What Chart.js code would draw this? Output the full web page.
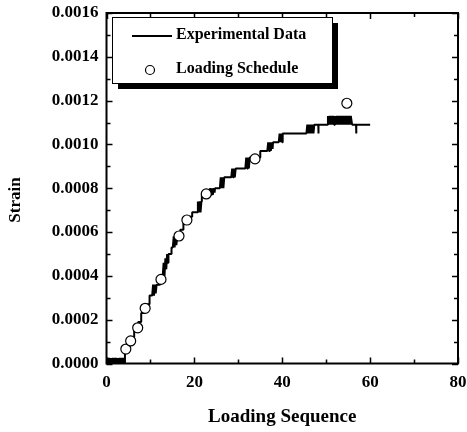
<!DOCTYPE html>
<html>
<head>
<meta charset="utf-8">
<script src="https://cdn.jsdelivr.net/npm/chart.js@4/dist/chart.umd.min.js"></script>
<style>
  html, body { margin: 0; padding: 0; background: #fff; }
  #box { width: 467px; height: 432px; }
</style>
</head>
<body>
<div id="box"><canvas id="grafico"></canvas></div>
<script>
// Curva experimental (sequência de carga, deformação)
const experimental = [
    // bloco ruidoso perto de zero
    [0, 0], [0.2, 0.000025], [0.4, 0], [0.6, 0.000025], [0.8, 0], [1.0, 0.000025], [1.2, 0],
    [1.4, 0.000025], [1.6, 0], [1.8, 0.000025], [2.0, 0], [2.2, 0.000025], [2.4, 0], [2.6, 0.000025],
    [2.8, 0], [3.0, 0.000025], [3.2, 0], [3.4, 0.000025], [3.6, 0], [3.8, 0.000025], [4.0, 0], [4.2, 0.000025],
    // subida em degraus
    [4.2, 0.00006], [4.8, 0.00006], [4.8, 0.00009], [5.6, 0.00009], [5.6, 0.00012], [6.3, 0.00012],
    [6.3, 0.00015], [7.2, 0.00015], [7.2, 0.00019], [7.9, 0.00019], [7.9, 0.00023], [8.7, 0.00023],
    [8.7, 0.00027], [9.8, 0.00027], [9.8, 0.00031],
    [10.4, 0.00031], [10.6, 0.00036], [10.8, 0.00031], [11.0, 0.00036], [11.2, 0.00032], [11.4, 0.00036],
    [12.2, 0.00036], [12.2, 0.0004],
    [12.8, 0.0004], [13.0, 0.00046], [13.2, 0.0004], [13.4, 0.00048], [13.6, 0.00043], [13.8, 0.0005],
    [14.0, 0.00046], [14.1, 0.0005],
    [14.8, 0.0005], [14.8, 0.00053],
    [15.1, 0.00053], [15.3, 0.00058], [15.5, 0.00053], [15.7, 0.00058], [15.9, 0.00054], [16.1, 0.00058],
    [16.8, 0.00058], [16.8, 0.00061], [17.5, 0.00061], [17.5, 0.00064], [18.6, 0.00064], [18.6, 0.00067],
    [19.5, 0.00067], [19.5, 0.00069],
    [20.6, 0.00069], [20.8, 0.00074], [21.0, 0.00069], [21.2, 0.00074], [21.4, 0.00069], [21.6, 0.00074],
    [21.7, 0.00074], [21.7, 0.00077],
    [23.4, 0.00077], [23.6, 0.0008], [23.8, 0.00077], [24.0, 0.0008], [24.2, 0.00077], [24.4, 0.0008],
    [24.6, 0.00078], [24.7, 0.0008],
    [25.8, 0.0008], [26.0, 0.00085], [26.2, 0.0008], [26.4, 0.00085], [26.6, 0.0008], [26.8, 0.00085],
    [28.4, 0.00085], [28.6, 0.00089], [28.8, 0.00085], [29.0, 0.00089], [29.2, 0.00085], [29.4, 0.00089],
    [31.6, 0.00089], [31.8, 0.00094], [32.0, 0.00089], [32.2, 0.00094], [32.4, 0.00089], [32.6, 0.00094],
    [35.0, 0.00094], [35.0, 0.00097],
    [36.6, 0.00097], [36.8, 0.00101], [37.0, 0.00097], [37.2, 0.00101], [37.4, 0.00097], [37.6, 0.00101],
    [37.8, 0.00098], [37.9, 0.00101],
    [39.2, 0.00101], [39.4, 0.00105], [39.6, 0.00101], [39.8, 0.00105], [40.0, 0.00101], [40.1, 0.00105],
    // patamar superior
    [45.5, 0.00105], [45.7, 0.00109], [45.9, 0.00105], [46.1, 0.00109], [46.3, 0.00105], [46.5, 0.00109],
    [46.7, 0.00105], [46.9, 0.00109], [47.1, 0.00105], [47.3, 0.00109],
    [48.2, 0.00109], [48.2, 0.00105], [48.3, 0.00109],
    [50.2, 0.00109], [50.4, 0.00113], [50.6, 0.00109], [50.8, 0.00113], [51.0, 0.00109], [51.2, 0.00113],
    [51.4, 0.00109], [51.6, 0.00113], [51.8, 0.00109], [52.0, 0.00113], [52.2, 0.00109], [52.4, 0.00113],
    [52.6, 0.00109], [52.8, 0.00113], [53.0, 0.00109], [53.2, 0.00113], [53.4, 0.00109], [53.6, 0.00113],
    [53.8, 0.00109], [54.0, 0.00113], [54.2, 0.00109], [54.4, 0.00113], [54.6, 0.00109], [54.8, 0.00113],
    [55.0, 0.00109], [55.2, 0.00113], [55.4, 0.00109], [55.6, 0.00113], [55.9, 0.00109],
    [56.8, 0.00109], [56.8, 0.00105], [56.9, 0.00109], [60, 0.00109]
];

// Cronograma de carregamento (círculos)
const scheduleX = [4.4, 5.5, 7.1, 8.8, 12.4, 16.5, 18.3, 22.7, 33.8, 54.7];
const scheduleY = [0.000066, 0.000103, 0.000163, 0.000252, 0.000384, 0.000582, 0.000655, 0.000774, 0.000934, 0.001188];

// Eixos
const xTicks = [0, 20, 40, 60, 80];
const yTicks = [0, 0.0002, 0.0004, 0.0006, 0.0008, 0.0010, 0.0012, 0.0014, 0.0016];
const xMinor = [10, 30, 50, 70];
const yMinor = [0.0001, 0.0003, 0.0005, 0.0007, 0.0009, 0.0011, 0.0013, 0.0015];

const fonte = "'Liberation Serif', 'Times New Roman', serif";

// Moldura, marcas internas, título do eixo Y e legenda com sombra
const enfeites = {
    id: 'enfeites',
    afterDraw(chart) {
        const ctx = chart.ctx;
        const a = chart.chartArea;
        const sx = chart.scales.x, sy = chart.scales.y;
        ctx.save();
        ctx.strokeStyle = '#000';
        ctx.lineWidth = 1.5;
        ctx.beginPath();
        const marca = (vals, len) => {
            vals.forEach(v => {
                const px = Math.round(sx.getPixelForValue(v)) + 0.5;
                ctx.moveTo(px, a.bottom); ctx.lineTo(px, a.bottom - len);
                ctx.moveTo(px, a.top); ctx.lineTo(px, a.top + len);
            });
        };
        const marcaY = (vals, len) => {
            vals.forEach(v => {
                const py = Math.round(sy.getPixelForValue(v)) + 0.5;
                ctx.moveTo(a.left, py); ctx.lineTo(a.left + len, py);
                ctx.moveTo(a.right, py); ctx.lineTo(a.right - len, py);
            });
        };
        marca(xTicks, 6); marca(xMinor, 4);
        marcaY(yTicks, 6); marcaY(yMinor, 4);
        ctx.stroke();

        ctx.lineWidth = 2;
        ctx.strokeRect(a.left, a.top, a.right - a.left, a.bottom - a.top);

        // título do eixo Y
        ctx.save();
        ctx.translate(16, 200);
        ctx.rotate(-Math.PI / 2);
        ctx.font = 'bold 17px ' + fonte;
        ctx.fillStyle = '#000';
        ctx.textAlign = 'center';
        ctx.textBaseline = 'middle';
        ctx.fillText('Strain', 0, 0);
        ctx.restore();

        // legenda
        const lx = 112, ly = 17, lw = 220, lh = 66;
        ctx.fillStyle = '#000';
        ctx.fillRect(lx + 6, ly + 6, lw, lh);
        ctx.fillStyle = '#fff';
        ctx.fillRect(lx, ly, lw, lh);
        ctx.lineWidth = 1;
        ctx.strokeRect(lx + 0.5, ly + 0.5, lw, lh);

        ctx.lineWidth = 2;
        ctx.beginPath();
        ctx.moveTo(132, 36); ctx.lineTo(172, 36);
        ctx.stroke();

        ctx.lineWidth = 1.2;
        ctx.beginPath();
        ctx.arc(150, 70, 4.5, 0, Math.PI * 2);
        ctx.fillStyle = '#fff';
        ctx.fill();
        ctx.stroke();

        ctx.fillStyle = '#000';
        ctx.font = 'bold 16px ' + fonte;
        ctx.textAlign = 'left';
        ctx.textBaseline = 'middle';
        ctx.fillText('Experimental Data', 176, 35);
        ctx.fillText('Loading Schedule', 176, 69);
        ctx.restore();
    }
};

const ctx = document.getElementById('grafico').getContext('2d');

new Chart(ctx, {
    type: 'line',
    data: {
        datasets: [
            {
                label: 'Loading Schedule',
                data: scheduleX.map((x, i) => ({ x: x, y: scheduleY[i] })),
                showLine: false,
                pointRadius: 5,
                pointBorderWidth: 1.2,
                pointBackgroundColor: '#fff',
                pointBorderColor: '#000'
            },
            {
                label: 'Experimental Data',
                data: experimental.map(p => ({ x: p[0], y: p[1] })),
                borderColor: '#000',
                borderWidth: 2,
                borderJoinStyle: 'bevel',
                pointRadius: 0,
                tension: 0,
                fill: false
            }
        ]
    },
    options: {
        responsive: true,
        maintainAspectRatio: false,
        animation: false,
        events: [],
        layout: { padding: { left: 0, right: 9, top: 13, bottom: 0 } },
        plugins: {
            legend: { display: false },
            tooltip: { enabled: false }
        },
        scales: {
            x: {
                type: 'linear',
                min: 0, max: 80,
                afterBuildTicks: s => { s.ticks = xTicks.map(v => ({ value: v })); },
                afterFit: s => {
                    s.height = 68.5;
                    s.paddingLeft = 0; s.paddingRight = 0;
                },
                grid: { display: false, drawTicks: false },
                border: { display: false },
                ticks: {
                    color: '#000',
                    padding: 9,
                    maxRotation: 0,
                    font: { family: fonte, size: 17, weight: 'bold' }
                },
                title: {
                    display: true,
                    text: 'Loading Sequence',
                    color: '#000',
                    padding: { top: 14 },
                    font: { family: fonte, size: 19, weight: 'bold' }
                }
            },
            y: {
                type: 'linear',
                min: 0, max: 0.0016,
                afterBuildTicks: s => { s.ticks = yTicks.map(v => ({ value: v })); },
                afterFit: s => {
                    s.width = 106.5;
                    s.paddingTop = 0; s.paddingBottom = 0;
                },
                grid: { display: false, drawTicks: false },
                border: { display: false },
                ticks: {
                    color: '#000',
                    padding: 8,
                    font: { family: fonte, size: 17, weight: 'bold' },
                    callback: v => v.toFixed(4)
                }
            }
        }
    },
    plugins: [enfeites]
});
</script>
</body>
</html>
